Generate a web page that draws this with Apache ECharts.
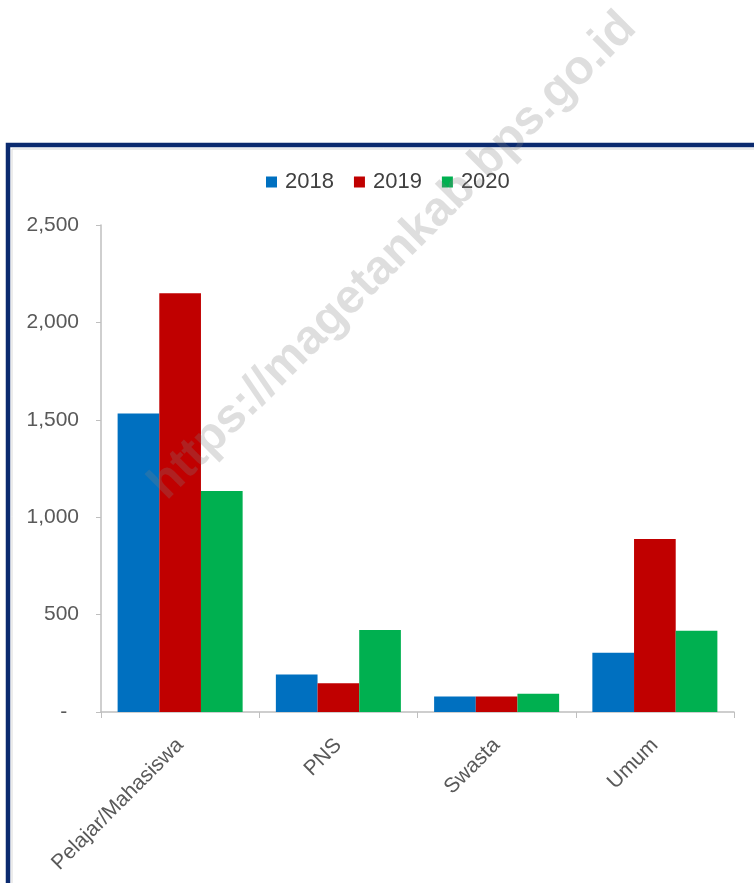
<!DOCTYPE html>
<html>
<head>
<meta charset="utf-8">
<script src="https://cdn.jsdelivr.net/npm/echarts@6/dist/echarts.min.js"></script>
<style>
html,body{margin:0;padding:0;background:#fff;}
#chart{width:754px;height:883px;}
</style>
</head>
<body>
<div id="chart"></div>
<script>
const categories = ['Pelajar/Mahasiswa', 'PNS', 'Swasta', 'Umum'];
const years = ['2018', '2019', '2020'];
const values2018 = [1532, 193, 80, 304];
const values2019 = [2150, 147, 80, 888];
const values2020 = [1134, 421, 94, 417];
const colors = ['#0070C0', '#C00000', '#00B050'];
const yTicks = [0, 500, 1000, 1500, 2000, 2500];
const watermarkText = 'https://magetankab.bps.go.id';

const font = 'Liberation Sans';
const seriesData = [values2018, values2019, values2020];

const chart = echarts.init(document.getElementById('chart'));
chart.setOption({
  animation: false,
  backgroundColor: '#ffffff',
  legend: {
    left: 261,
    top: 166,
    itemWidth: 11,
    itemHeight: 11,
    itemGap: 20,
    icon: 'rect',
    textStyle: { fontFamily: font, fontSize: 22, color: '#404040', padding: [0, 0, 0, 3] },
    data: years
  },
  grid: { left: 101, right: 20, top: 225, bottom: 171, containLabel: false },
  xAxis: {
    type: 'category',
    data: categories,
    axisLine: { lineStyle: { color: '#BFBFBF', width: 1.5 } },
    axisTick: { show: true, alignWithLabel: false, length: 6, lineStyle: { color: '#BFBFBF' } },
    axisLabel: {
      rotate: 45,
      interval: 0,
      margin: 30,
      fontFamily: font,
      fontSize: 21,
      color: '#595959'
    }
  },
  yAxis: {
    type: 'value',
    min: yTicks[0],
    max: yTicks[yTicks.length - 1],
    interval: 500,
    splitLine: { show: false },
    axisLine: { show: true, lineStyle: { color: '#BFBFBF', width: 1.5 } },
    axisTick: { show: true, length: 5, lineStyle: { color: '#BFBFBF' } },
    axisLabel: {
      margin: 22,
      fontFamily: font,
      fontSize: 21,
      color: '#595959',
      formatter: function (v) {
        if (v === 0) return '-  ';
        return v.toLocaleString('en-US');
      }
    }
  },
  series: years.map(function (y, i) {
    return {
      name: y,
      type: 'bar',
      data: seriesData[i],
      barGap: '0%',
      barCategoryGap: '21%',
      itemStyle: { color: colors[i] }
    };
  }),
  graphic: [
    {
      type: 'rect',
      shape: { x: 8, y: 145, width: 800, height: 800 },
      style: { fill: 'none', stroke: '#0B2A6F', lineWidth: 4.5 },
      z: 1,
      silent: true
    },
    {
      type: 'rect',
      shape: { x: 12, y: 149, width: 800, height: 800 },
      style: { fill: 'none', stroke: '#D9D9D9', lineWidth: 1 },
      z: 1,
      silent: true
    },
    {
      type: 'text',
      x: 393,
      y: 256,
      rotation: Math.PI / 4,
      z: 100,
      silent: true,
      style: {
        text: watermarkText,
        fontFamily: font,
        fontWeight: 'bold',
        fontSize: 48,
        fill: 'rgba(128,128,128,0.26)',
        align: 'center',
        verticalAlign: 'middle'
      }
    }
  ]
});
</script>
</body>
</html>
